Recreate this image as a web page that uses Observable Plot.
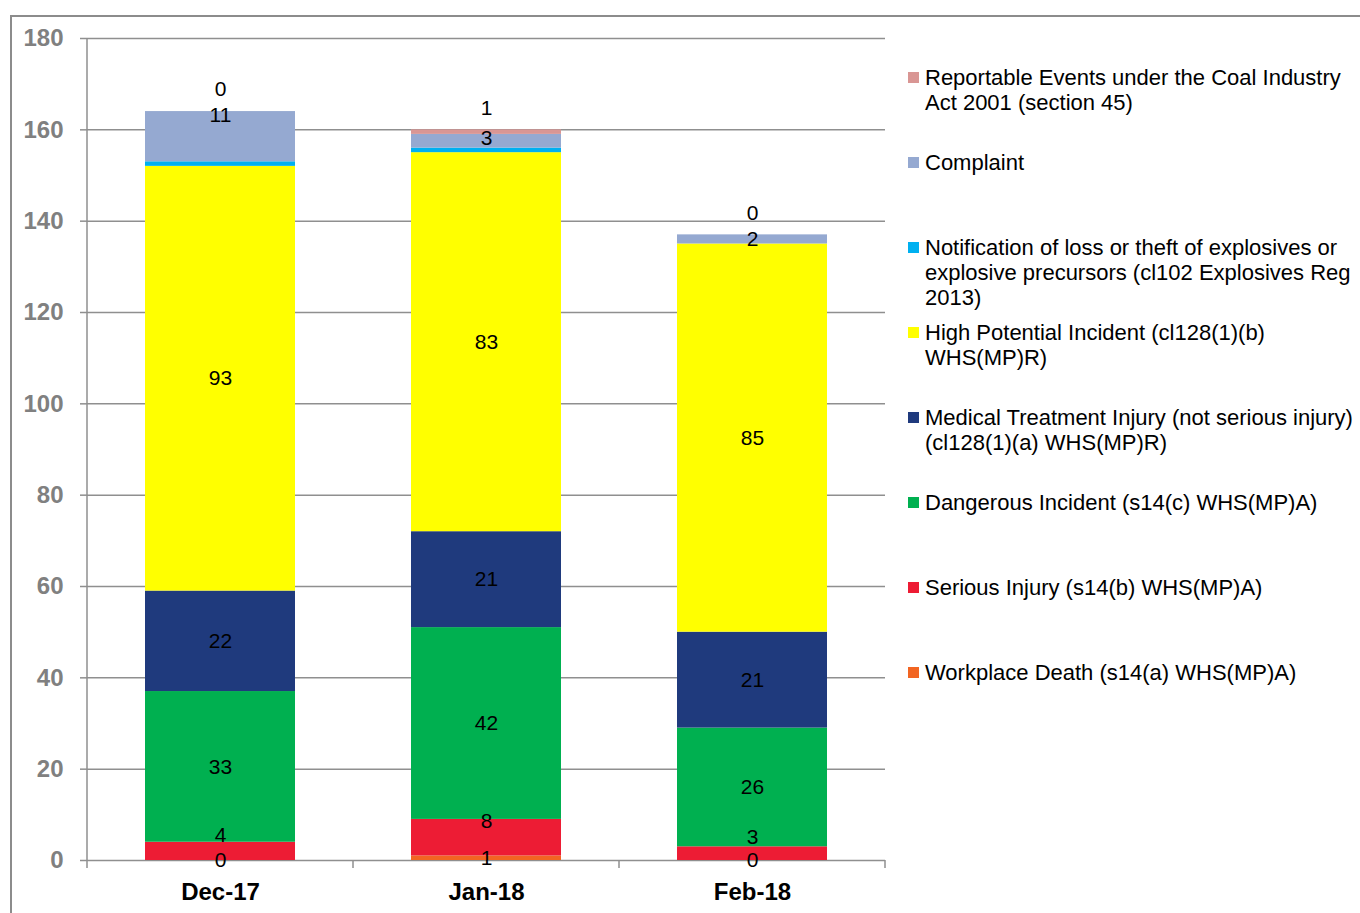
<!DOCTYPE html>
<html>
<head>
<meta charset="utf-8">
<script src="https://cdn.jsdelivr.net/npm/d3@7"></script>
<script src="https://cdn.jsdelivr.net/npm/@observablehq/plot@0.6"></script>
<style>
  body { margin: 0; background: #fff; font-family: "Liberation Sans", Arial, sans-serif; }
  #wrap { position: relative; width: 1360px; height: 913px; overflow: hidden; }
  #frame { position: absolute; left: 10px; top: 15px; width: 1420px; height: 1000px; border: 2px solid #8c8c8c; box-sizing: border-box; }
  #chart { position: absolute; left: 0; top: 0; }
  #chart svg { overflow: visible; }
  #chart g[aria-label="y-axis tick label"] text { fill: #808080; }
  #legend { position: absolute; left: 0; top: 0; }
  .item { position: absolute; left: 925px; width: 442px; font-size: 22px; line-height: 25px; color: #000; }
  .sw { position: absolute; left: -17px; top: 7px; width: 11px; height: 11px; }
</style>
</head>
<body>
<div id="wrap">
  <div id="frame"></div>
  <div id="chart"></div>
  <div id="legend"></div>
</div>
<script>
// ---- data ----
const months = ["Dec-17", "Jan-18", "Feb-18"];
const seriesNames = [
  "Workplace Death (s14(a) WHS(MP)A)",
  "Serious Injury (s14(b) WHS(MP)A)",
  "Dangerous Incident (s14(c) WHS(MP)A)",
  "Medical Treatment Injury (not serious injury) (cl128(1)(a) WHS(MP)R)",
  "High Potential Incident (cl128(1)(b) WHS(MP)R)",
  "Notification of loss or theft of explosives or explosive precursors (cl102 Explosives Reg 2013)",
  "Complaint",
  "Reportable Events under the Coal Industry Act 2001 (section 45)"
];
const seriesColors = ["#F26522", "#ED1C34", "#00B050", "#1F3A7D", "#FFFF00", "#00B0F0", "#95A9D1", "#D99694"];
const workplaceDeath    = [0, 1, 0];
const seriousInjury     = [4, 8, 3];
const dangerousIncident = [33, 42, 26];
const medicalTreatment  = [22, 21, 21];
const highPotential     = [93, 83, 85];
const notification      = [1, 1, 0];
const complaint         = [11, 3, 2];
const reportable        = [0, 1, 0];
const yTicks = [0, 20, 40, 60, 80, 100, 120, 140, 160, 180];

const seriesValues = [workplaceDeath, seriousInjury, dangerousIncident, medicalTreatment,
                      highPotential, notification, complaint, reportable];
const data = seriesNames.flatMap((s, i) =>
  months.map((m, j) => ({month: m, series: s, value: seriesValues[i][j]})));

const gridColor = "#8f8f8f";
const labelFont = 21;

function labels(group, stack, dy) {
  const names = group.map(i => seriesNames[i]);
  return Plot.text(data, stack({
    x: "month", y: "value", z: "series",
    text: d => names.includes(d.series) ? String(d.value) : null,
    fontSize: labelFont, fill: "#000", dy
  }));
}

const chart = Plot.plot({
  width: 900,
  height: 913,
  marginLeft: 87,
  marginRight: 15,
  marginTop: 38,
  marginBottom: 53,
  style: {fontFamily: "'Liberation Sans', Arial, sans-serif", background: "transparent"},
  x: {domain: months, padding: 0, label: null},
  y: {domain: [0, 180], label: null},
  color: {domain: seriesNames, range: seriesColors},
  marks: [
    Plot.gridY(yTicks, {stroke: gridColor, strokeOpacity: 1, strokeWidth: 1.5}),
    Plot.barY(data, {x: "month", y: "value", z: "series", fill: "series", insetLeft: 58, insetRight: 58}),
    Plot.axisY(yTicks, {tickSize: 7, tickPadding: 17, fontSize: 24, fontWeight: "bold", stroke: gridColor, strokeWidth: 1.5, label: null}),
    Plot.axisX({tickSize: 0, tickPadding: 22, fontSize: 24, fontWeight: "bold", label: null}),
    labels([0, 2, 3, 4], Plot.stackY, 0),
    labels([1], Plot.stackY, -16),
    labels([6], Plot.stackY2, 4),
    labels([7], Plot.stackY2, -22)
  ]
});
document.getElementById("chart").append(chart);

// axis line and category boundary ticks
const svg = d3.select(chart);
const xs = chart.scale("x");
const ys = chart.scale("y");
const x0 = xs.range[0];
const yBottom = ys.range[0], yTop = ys.range[1];
svg.append("line").attr("x1", x0).attr("x2", x0).attr("y1", yTop).attr("y2", yBottom)
  .attr("stroke", gridColor).attr("stroke-width", 1.5);
const edges = months.map(m => xs.apply(m)).concat([xs.apply(months[months.length - 1]) + xs.bandwidth]);
for (const e of edges) {
  svg.append("line").attr("x1", e).attr("x2", e).attr("y1", yBottom).attr("y2", yBottom + 8)
    .attr("stroke", gridColor).attr("stroke-width", 1.5);
}

// legend (top to bottom = reverse stacking order)
const legend = d3.select("#legend");
const order = d3.range(seriesNames.length).reverse();
order.forEach((si, k) => {
  const item = legend.append("div").attr("class", "item").style("top", (64.5 + k * 85) + "px");
  item.append("span").attr("class", "sw").style("background", seriesColors[si]);
  item.append("span").text(seriesNames[si]);
});
</script>
</body>
</html>
